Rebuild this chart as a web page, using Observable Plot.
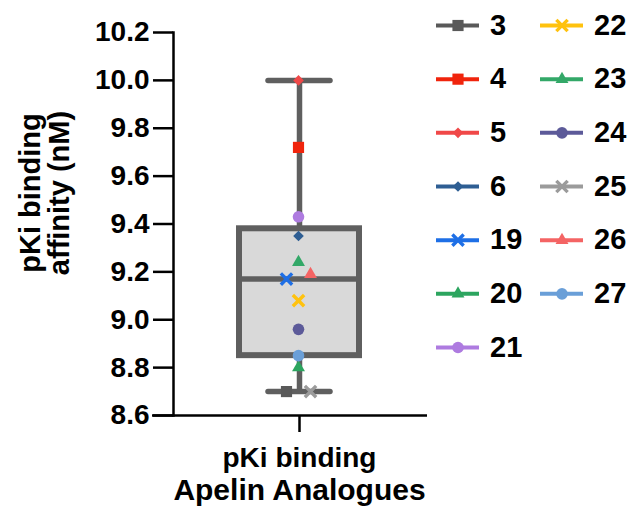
<!DOCTYPE html>
<html><head><meta charset="utf-8">
<script src="https://cdn.jsdelivr.net/npm/d3@7"></script>
<script src="https://cdn.jsdelivr.net/npm/@observablehq/plot@0.6"></script>
<style>
html,body{margin:0;padding:0;background:#fff;}
#wrap{position:relative;width:630px;height:510px;overflow:hidden;}
#chart{position:absolute;left:0;top:0;}
#legend{position:absolute;left:420px;top:0;}
</style></head>
<body><div id="wrap"><div id="chart"></div><div id="legend"></div></div>
<script>
// ---- data ----
const category = "pKi binding";
const compounds = ["3","4","5","6","19","20","21","22","23","24","25","26","27"];
const pKi       = [8.70, 9.72, 10.00, 9.35, 9.17, 8.80, 9.43, 9.08, 9.24, 8.96, 8.70, 9.19, 8.85];
const symbols   = ["square","square","diamond2","diamond2","times","triangle","circle","times","triangle","circle","times","triangle","circle"];
const colors    = ["#595959","#f0240c","#f04848","#2e5e93","#1e6fe6","#2ca55f","#ae7be0","#ffc20e","#33a868","#5c5a99","#9b9b9b","#f46464","#6a9fd8"];
const boxKeys   = ["min","q1","median","q3","max"];
const boxValues = [8.70, 8.85, 9.17, 9.38, 10.00];
const yTicks    = [8.6, 8.8, 9.0, 9.2, 9.4, 9.6, 9.8, 10.0, 10.2];
const yTitle = "pKi binding\naffinity (nM)";
const xTitle = "Apelin Analogues";

// ---- derived tables ----
const points = compounds.map((c, i) => ({c, v: pKi[i], sym: symbols[i]}));
const box = Object.fromEntries(boxKeys.map((k, i) => [k, boxValues[i]]));
box.cat = category;

// styling
const FONT = "'Liberation Sans', Arial, Helvetica, sans-serif";
const GREY = "#5f5f5f";
const rBySym = {square: 6.3, diamond2: 4.8, times: 5.2, triangle: 4.8, circle: 5.8};
const shiftLeft = new Set(["19", "3"]);
const shiftRight = new Set(["26", "25"]);
const colorScale = {domain: compounds, range: colors};

function dotMarks(data, extra) {
  const marks = [];
  for (const sym of Object.keys(rBySym)) {
    const sub = data.filter(d => d.sym === sym);
    if (!sub.length) continue;
    const paint = sym === "times"
      ? {stroke: "c", fill: "none", strokeWidth: 3.4}
      : {fill: "c", stroke: "none"};
    marks.push(Plot.dot(sub, {...extra, ...paint, symbol: sym, r: rBySym[sym]}));
  }
  return marks;
}

const groups = [
  [points.filter(d => shiftLeft.has(d.c)), -12],
  [points.filter(d => !shiftLeft.has(d.c) && !shiftRight.has(d.c)), 0],
  [points.filter(d => shiftRight.has(d.c)), 12]
];

const chart = Plot.plot({
  width: 630, height: 510,
  marginLeft: 173, marginRight: 205, marginTop: 32, marginBottom: 95,
  style: {fontFamily: FONT, fontWeight: "bold", color: "#000", background: "transparent"},
  x: {type: "band", domain: [category], padding: 0, axis: null},
  y: {domain: [8.6, 10.2], axis: null},
  color: colorScale,
  marks: [
    // whiskers
    Plot.ruleX([box], {x: "cat", y1: "min", y2: "q1", stroke: GREY, strokeWidth: 5.5}),
    Plot.ruleX([box], {x: "cat", y1: "q3", y2: "max", stroke: GREY, strokeWidth: 5.5}),
    Plot.tickY([box], {x: "cat", y: "min", stroke: GREY, strokeWidth: 5.5, strokeLinecap: "round", inset: 95}),
    Plot.tickY([box], {x: "cat", y: "max", stroke: GREY, strokeWidth: 5.5, strokeLinecap: "round", inset: 95}),
    // box
    Plot.barY([box], {x: "cat", y1: "q1", y2: "q3", fill: "#d9d9d9", stroke: GREY, strokeWidth: 6, insetLeft: 66, insetRight: 66}),
    Plot.tickY([box], {x: "cat", y: "median", stroke: GREY, strokeWidth: 5.5, inset: 66}),
    // points
    ...groups.flatMap(([g, dx]) => dotMarks(g, {x: () => category, y: "v", dx: dx - 1})),
    // axes
    Plot.frame({anchor: "left", stroke: "#000", strokeWidth: 2.5}),
    Plot.ruleY([8.6], {stroke: "#000", strokeWidth: 2.5, insetLeft: -21, insetRight: -2}),
    Plot.axisY(yTicks, {tickSize: 20, tickPadding: 4, tickFormat: d3.format(".1f"), fontSize: 28, fontWeight: "bold", stroke: "#000", strokeWidth: 2.5, label: null}),
    Plot.axisX({tickSize: 17, tickPadding: 15, fontSize: 28, fontWeight: "bold", stroke: "#000", strokeWidth: 2.5, label: null}),
    // titles
    Plot.text([yTitle], {frameAnchor: "left", text: d => d, rotate: -90, dx: -128, dy: -31, fontSize: 29, fontWeight: "bold", lineHeight: 1.0, textAnchor: "middle", lineAnchor: "middle", fill: "#000"}),
    Plot.text([xTitle], {frameAnchor: "bottom", text: d => d, dy: 75, fontSize: 30, fontWeight: "bold", textAnchor: "middle", lineAnchor: "middle", fill: "#000"})
  ]
});
document.getElementById("chart").append(chart);

// ---- legend ----
const perCol = 7;
const legendRows = compounds.map((c, i) => ({c, sym: symbols[i], col: Math.floor(i / perCol), row: i % perCol}));
const legend = Plot.plot({
  width: 210, height: 370, margin: 0,
  style: {fontFamily: FONT, fontWeight: "bold", color: "#000", background: "transparent"},
  x: {type: "band", domain: [0, 1], range: [15, 163], paddingInner: 0.59, paddingOuter: 0, axis: null},
  y: {domain: [0, 6], range: [25, 347], axis: null},
  color: colorScale,
  marks: [
    Plot.tickY(legendRows, {x: "col", y: "row", stroke: "c", strokeWidth: 4}),
    ...dotMarks(legendRows, {x: "col", y: "row"}),
    Plot.text(legendRows, {x: "col", y: "row", text: "c", dx: 32, textAnchor: "start", lineAnchor: "middle", fontSize: 29, fontWeight: "bold", fill: "#000"})
  ]
});
document.getElementById("legend").append(legend);
</script>
</body></html>
